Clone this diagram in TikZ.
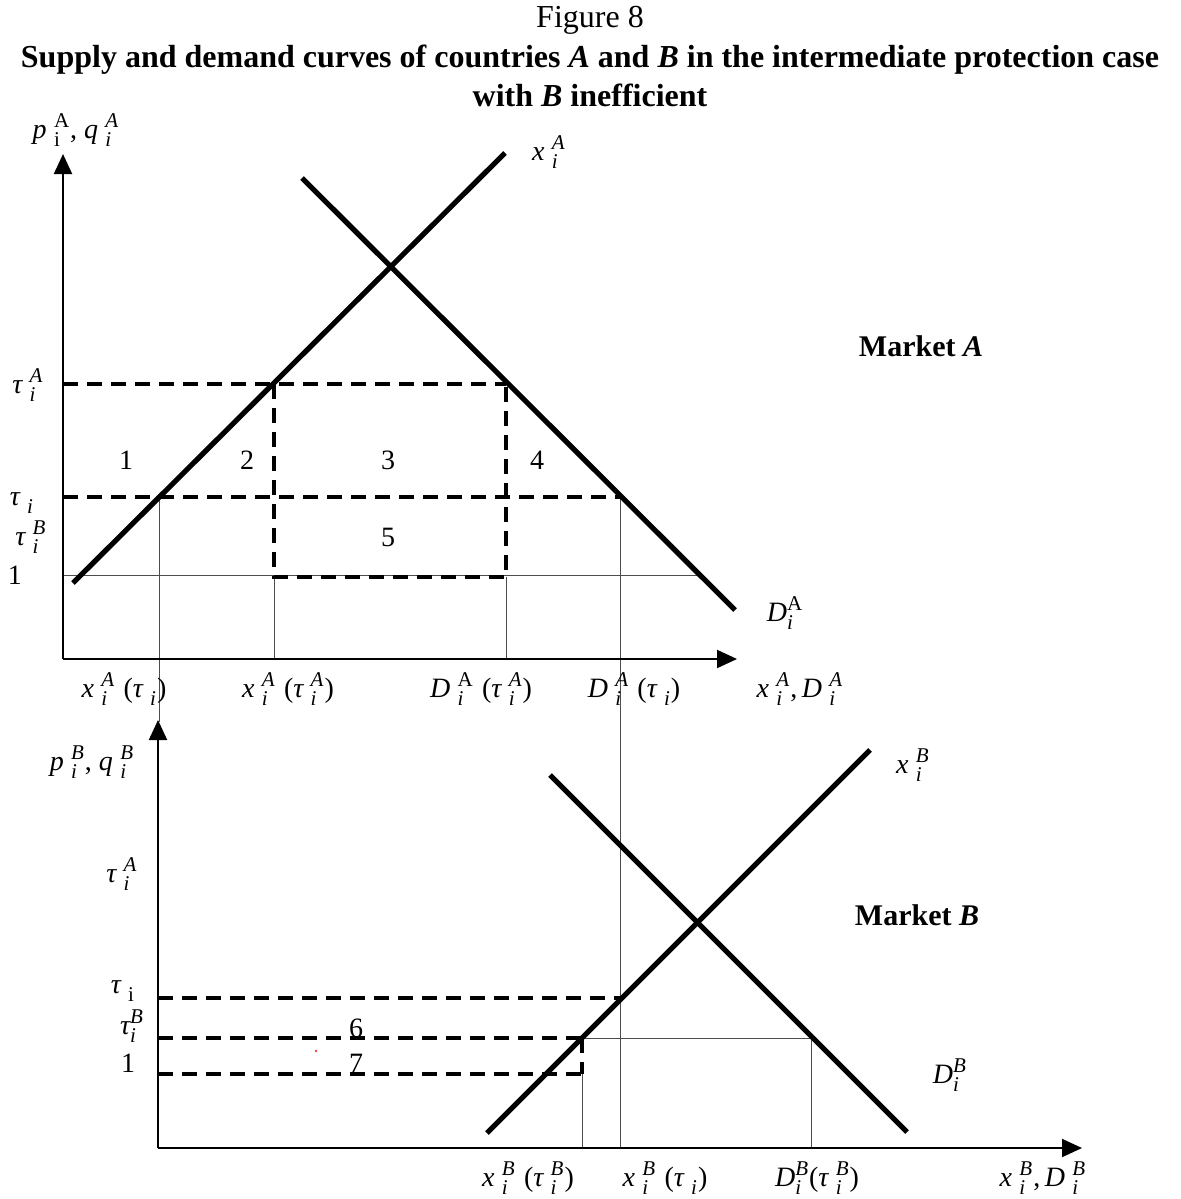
\documentclass[tikz,border=0pt]{standalone}
\usepackage{fontspec}
\usepackage{amsmath}
\setmainfont{Liberation Serif}
\usetikzlibrary{arrows.meta}
\DeclareMathSizes{14}{14}{10.5}{8}
\newcommand{\itx}[1]{\text{\itshape #1}}
\newcommand{\upx}[1]{\text{\upshape #1}}
\newcommand{\sbp}[3]{\itx{#1}\hspace{0.26em}{}_{#2}^{#3}}
\newcommand{\gap}{\hspace{0.3em}}
\begin{document}
\begin{tikzpicture}[x=0.5pt,y=-0.5pt,
  curve/.style={line width=2.6pt},
  dline/.style={line width=2pt, dash pattern=on 7.5pt off 4.5pt},
  thin/.style={line width=0.5pt, black!70},
  axis/.style={line width=1pt, -{Triangle[length=10pt,width=9pt]}},
  lab/.style={inner sep=0pt, font=\fontsize{14}{16}\selectfont},
  mkt/.style={inner sep=0pt, font=\bfseries\fontsize{15}{18}\selectfont},
  ttl/.style={inner sep=0pt, anchor=base, font=\fontsize{16}{19}\selectfont}]
\useasboundingbox (0,0) rectangle (1180,1199);
% ---------- title
\node[ttl] (t1) at (590,27) {Figure 8};
\node[ttl,font=\bfseries\fontsize{16}{19}\selectfont] (t2) at (590,67) {Supply and demand curves of countries \textit{A} and \textit{B} in the intermediate protection case};
\node[ttl,font=\bfseries\fontsize{16}{19}\selectfont] (t3) at (590,106) {with \textit{B} inefficient};
% ---------- Market A coordinates
\coordinate (oA) at (63,659);
\coordinate (yA) at (63,154);
\coordinate (xA) at (737,659);
\coordinate (sA1) at (73,583);
\coordinate (sA2) at (505,153);
\coordinate (dA1) at (302,178);
\coordinate (dA2) at (735,610);
\coordinate (tA0) at (63,384);
\coordinate (tA1) at (274,384);
\coordinate (tA2) at (506,384);
\coordinate (bA1) at (274,577);
\coordinate (bA2) at (506,577);
\coordinate (ti0) at (63,497);
\coordinate (ti1) at (159,497);
\coordinate (ti2) at (620,497);
\coordinate (on0) at (63,575);
\coordinate (on1) at (699,575);
\coordinate (vA1) at (159,722);
\coordinate (vA2) at (274,659);
\coordinate (vA3) at (506,659);
\coordinate (vA4) at (620,1148);
% thin guides
\draw[thin] (on0) -- (on1);
\draw[thin] (ti1) -- (vA1);
\draw[thin] (bA1) -- (vA2);
\draw[thin] (bA2) -- (vA3);
\draw[thin] (ti2) -- (vA4);
% dashed
\draw[dline] (tA0) -- (tA2);
\draw[dline] (tA1) -- (bA1) -- (bA2) -- (tA2);
\draw[dline] (ti0) -- (ti2);
% axes
\draw[axis] (oA) -- (yA);
\draw[axis] (oA) -- (xA);
% curves
\draw[curve] (sA1) -- (sA2);
\draw[curve] (dA1) -- (dA2);
% labels A
\node[lab] (pA) at (76,130) {$\sbp{p}{\upx{i}}{\upx{A}}\upx{, }\sbp{q}{\itx{i}}{\itx{A}}$};
\node[lab] (xAl) at (549,152) {$\sbp{x}{\itx{i}}{\itx{A}}$};
\node[mkt] (mA) at (921,346) {Market \textit{A}};
\node[lab] (tAl) at (28,385) {$\sbp{τ}{\itx{i}}{\itx{A}}$};
\node[lab] (n1) at (126,460) {1};
\node[lab] (n2) at (247,460) {2};
\node[lab] (n3) at (388,460) {3};
\node[lab] (n4) at (537,460) {4};
\node[lab] (n5) at (388,537) {5};
\node[lab] (til) at (22,503) {$\sbp{τ}{\itx{i}}{}$};
\node[lab] (tBl) at (31,537) {$\sbp{τ}{\itx{i}}{\itx{B}}$};
\node[lab] (onl) at (15,575) {1};
\node[lab] (dAl) at (785,613) {$\itx{D}_{\itx{i}}^{\upx{A}}$};
\node[lab] (aA1) at (124,689) {$\sbp{x}{\itx{i}}{\itx{A}}\gap\upx{(}\sbp{τ}{\itx{i}}{}\upx{)}$};
\node[lab] (aA2) at (288,689) {$\sbp{x}{\itx{i}}{\itx{A}}\gap\upx{(}\sbp{τ}{\itx{i}}{\itx{A}}\upx{)}$};
\node[lab] (aA3) at (481,689) {$\sbp{D}{\itx{i}}{\upx{A}}\gap\upx{(}\sbp{τ}{\itx{i}}{\itx{A}}\upx{)}$};
\node[lab] (aA4) at (634,689) {$\sbp{D}{\itx{i}}{\itx{A}}\gap\upx{(}\sbp{τ}{\itx{i}}{}\upx{)}$};
\node[lab] (aA5) at (800,689) {$\sbp{x}{\itx{i}}{\itx{A}}\upx{,\,}\sbp{D}{\itx{i}}{\itx{A}}$};
% ---------- Market B coordinates
\coordinate (oB) at (158,1148);
\coordinate (yB) at (158,720);
\coordinate (xB) at (1082,1148);
\coordinate (sB1) at (487,1133);
\coordinate (sB2) at (870,750);
\coordinate (dB1) at (550,775);
\coordinate (dB2) at (907,1132);
\coordinate (bt0) at (158,998);
\coordinate (bt1) at (622,998);
\coordinate (bb0) at (158,1038);
\coordinate (bb1) at (582,1038);
\coordinate (bo0) at (158,1074);
\coordinate (bo1) at (582,1074);
\coordinate (bd1) at (811,1038);
\coordinate (bv1) at (582,1148);
\coordinate (bv2) at (811,1148);
% thin guides
\draw[thin] (bb1) -- (bd1);
\draw[thin] (bo1) -- (bv1);
\draw[thin] (bd1) -- (bv2);
% dashed
\draw[dline] (bt0) -- (bt1);
\draw[dline] (bb0) -- (bb1);
\draw[dline] (bo0) -- (bo1);
\draw[dline] (bb1) -- (bo1);
% axes
\draw[axis] (oB) -- (yB);
\draw[axis] (oB) -- (xB);
% curves
\draw[curve] (sB1) -- (sB2);
\draw[curve] (dB1) -- (dB2);
% labels B
\node[lab] (pB) at (92,762) {$\sbp{p}{\itx{i}}{\itx{B}}\upx{, }\sbp{q}{\itx{i}}{\itx{B}}$};
\node[lab] (tAB) at (122,874) {$\sbp{τ}{\itx{i}}{\itx{A}}$};
\node[lab] (xBl) at (913,765) {$\sbp{x}{\itx{i}}{\itx{B}}$};
\node[mkt] (mB) at (917,915) {Market \textit{B}};
\node[lab] (tiB) at (123,991) {$\sbp{τ}{\upx{i}}{}$};
\node[lab] (tBB) at (132,1026) {$\itx{τ}_{\itx{i}}^{\itx{B}}$};
\node[lab] (onB) at (128,1063) {1};
\node[lab] (n6) at (356,1028) {6};
\node[lab] (n7) at (356,1063) {7};
\node[lab] (dBl) at (950,1075) {$\itx{D}_{\itx{i}}^{\itx{B}}$};
\node[lab] (aB1) at (528,1178) {$\sbp{x}{\itx{i}}{\itx{B}}\gap\upx{(}\sbp{τ}{\itx{i}}{\itx{B}}\upx{)}$};
\node[lab] (aB2) at (665,1178) {$\sbp{x}{\itx{i}}{\itx{B}}\gap\upx{(}\sbp{τ}{\itx{i}}{}\upx{)}$};
\node[lab] (aB3) at (817,1178) {$\itx{D}_{\itx{i}}^{\itx{B}}\upx{(}\sbp{τ}{\itx{i}}{\itx{B}}\upx{)}$};
\node[lab] (aB4) at (1043,1178) {$\sbp{x}{\itx{i}}{\itx{B}}\upx{,\,}\sbp{D}{\itx{i}}{\itx{B}}$};
% stray dot
\fill[red] (316,1051) circle (0.6pt);
\end{tikzpicture}
\end{document}
